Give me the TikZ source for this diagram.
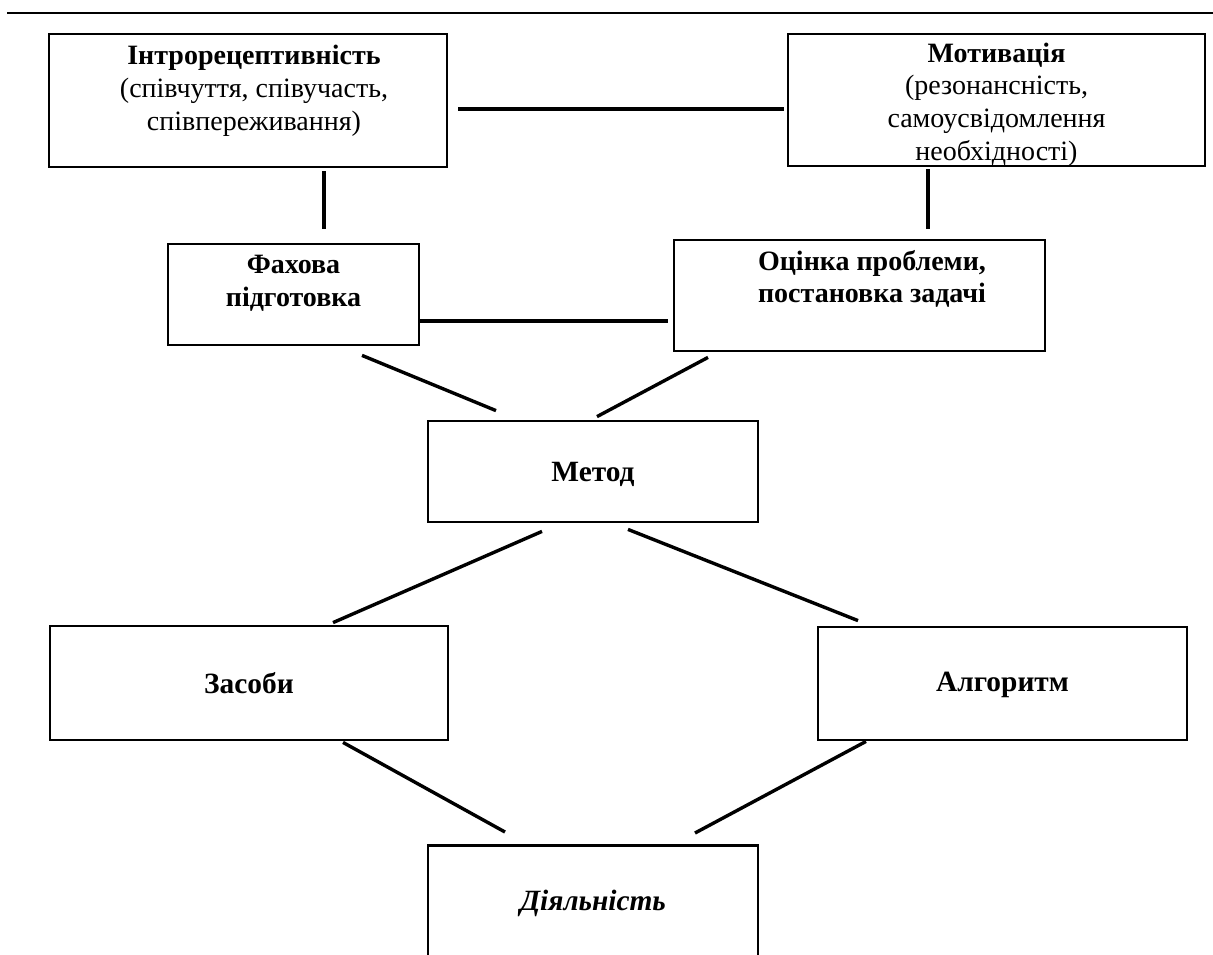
\documentclass[tikz,border=0pt]{standalone}
\usepackage{fontspec}
\setmainfont{Liberation Serif}
\usetikzlibrary{calc}
\begin{document}
\begin{tikzpicture}[x=0.5pt,y=-0.5pt,
  box/.style={draw, line width=1.4pt, inner sep=0pt},
  lbl/.style={align=center, font=\fontsize{14}{16.4}\selectfont, inner sep=0pt},
  big/.style={align=center, font=\fontsize{14.7}{16.4}\selectfont\bfseries, inner sep=0pt},
  conn/.style={line width=1.7pt}]
\useasboundingbox[fill=white] (0,0) rectangle (1213,954);
\clip (0,0) rectangle (1213,954);
% top rule
\draw[line width=1pt] (7,13) -- (1213,13);
% boxes
\node[box, minimum width=199pt, minimum height=66.5pt] (intro) at (248,100.5) {};
\node[box, minimum width=208.5pt, minimum height=66pt] (motiv) at (996.5,100) {};
\node[box, minimum width=125.5pt, minimum height=50.5pt] (fakh) at (293.5,294.5) {};
\node[box, minimum width=185.5pt, minimum height=55.5pt] (otsin) at (859.5,295.5) {};
\node[box, minimum width=165pt, minimum height=50.5pt] (metod) at (593,471.5) {};
\node[box, minimum width=199pt, minimum height=57pt] (zasob) at (249,683) {};
\node[box, minimum width=184.5pt, minimum height=56.5pt] (algor) at (1002.5,683.5) {};
\node[box, minimum width=165pt, minimum height=100pt, anchor=north] (diyal) at (593,844) {};
% texts
\node[lbl] (introtext) at (254,91) {\textbf{Інтрорецептивність}\\(співчуття, співучасть,\\співпереживання)};
\node[lbl] (motivtext) at (996.5,104.5) {\textbf{Мотивація}\\(резонансність,\\самоусвідомлення\\необхідності)};
\node[lbl, font=\fontsize{14}{16.6}\selectfont\bfseries] (fakhtext) at (293.5,283) {Фахова\\підготовка};
\node[lbl, font=\fontsize{14}{16.4}\selectfont\bfseries] (otsintext) at (872,279) {Оцінка проблеми,\\постановка задачі};
\node[big] (metodtext) at (593,474) {Метод};
\node[big] (zasobtext) at (249,683) {Засоби};
\node[big] (algortext) at (1002.5,685) {Алгоритм};
\node[big, font=\fontsize{14.7}{16.4}\selectfont\bfseries\itshape] (diyaltext) at (593,903) {Діяльність};
% connectors
\draw[conn] ($(intro.east)+(10,8.5)$) -- ($(motiv.west)+(-3,9)$);
\draw[conn] ($(intro.south)+(76,3)$) -- ($(fakh.north)+(30.5,-14)$);
\draw[conn] ($(motiv.south)+(-68.5,2)$) -- ($(otsin.north)+(68.5,-10)$);
\draw[conn] ($(fakh.east)+(0,26.5)$) -- ($(otsin.west)+(-5,25.5)$);
\draw[conn] ($(fakh.south)+(68.5,9)$) -- ($(metod.north)+(-97,-9)$);
\draw[conn] ($(otsin.south)+(-151.5,5)$) -- ($(metod.north)+(4,-3)$);
\draw[conn] ($(metod.south)+(-51,8)$) -- ($(zasob.north)+(84,-2)$);
\draw[conn] ($(metod.south)+(35,6)$) -- ($(algor.north)+(-144.5,-5)$);
\draw[conn] ($(zasob.south)+(94,1)$) -- ($(diyal.north)+(-88,-12)$);
\draw[conn] ($(algor.south)+(-136.5,0)$) -- ($(diyal.north)+(102,-11)$);
\end{tikzpicture}
\end{document}
